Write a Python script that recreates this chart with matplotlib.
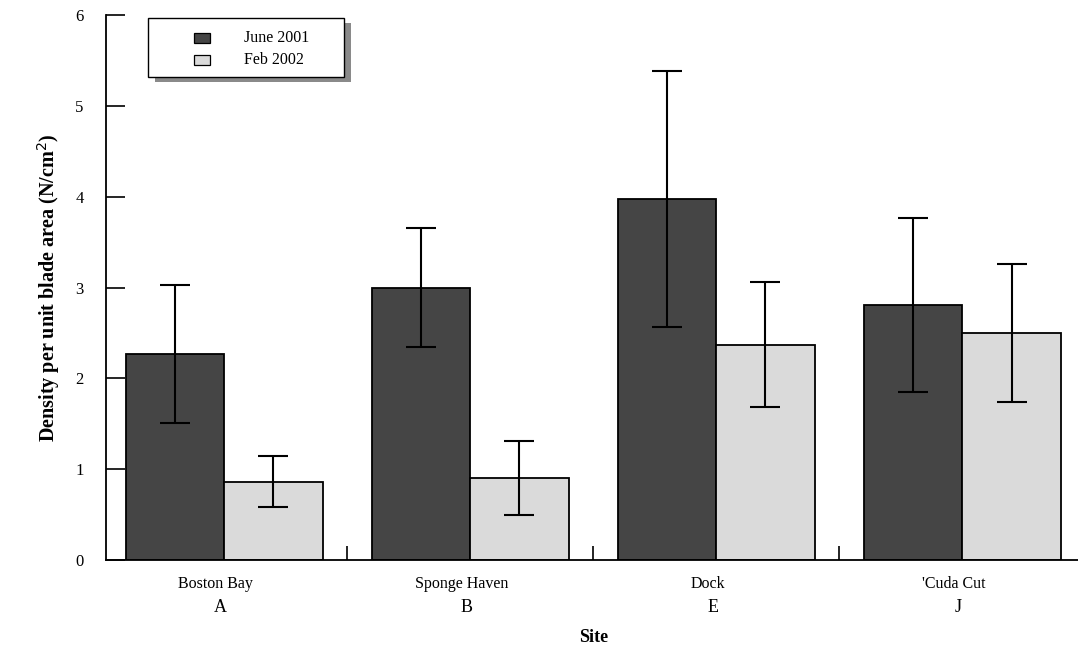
import matplotlib
matplotlib.use("Agg")
import matplotlib.pyplot as plt
from matplotlib.patches import Rectangle
import numpy as np

# Site data
sites = ["Boston Bay", "Sponge Haven", "Dock", "'Cuda Cut"]
site_codes = ["A", "B", "E", "J"]
series_names = ["June 2001", "Feb 2002"]
june_2001 = [2.27, 3.00, 3.97, 2.81]
june_2001_err = [0.76, 0.66, 1.41, 0.96]
feb_2002 = [0.86, 0.90, 2.37, 2.50]
feb_2002_err = [0.28, 0.41, 0.69, 0.76]

plt.rcParams["font.family"] = ["Liberation Serif", "DejaVu Serif"]

fig = plt.figure(figsize=(10.78, 6.5), dpi=100)
ax = fig.add_axes([106 / 1078, 90 / 650, 972 / 1078, 545 / 650])

dark = "#454545"
light = "#dadada"
width = 0.4
centers = np.arange(len(sites)) + 0.5

err_kw = dict(ecolor="black", elinewidth=1.5, capsize=11, capthick=1.5)
ax.bar(centers - width / 2, june_2001, width, color=dark, edgecolor="black",
       linewidth=1.3, zorder=2)
ax.bar(centers + width / 2, feb_2002, width, color=light, edgecolor="black",
       linewidth=1.3, zorder=2)
ax.errorbar(centers - width / 2, june_2001, yerr=june_2001_err, fmt="none",
            zorder=3, **err_kw)
ax.errorbar(centers + width / 2, feb_2002, yerr=feb_2002_err, fmt="none",
            zorder=3, **err_kw)

ax.set_xlim(0.02, 3.97)
ax.set_ylim(0, 6)

for s in ["top", "right"]:
    ax.spines[s].set_visible(False)
ax.spines["left"].set_linewidth(1.3)
ax.spines["bottom"].set_linewidth(1.3)

ax.set_yticks(range(0, 7))
ax.tick_params(axis="y", direction="in", length=14, width=1.2,
               labelsize=12, pad=16)
ax.set_xticks([1, 2, 3])
ax.set_xticklabels([])
ax.tick_params(axis="x", direction="in", length=10, width=1.2)

# Site names, site codes and the axis title below the plot
px = 1 / 90.8
for c, name, code in zip(centers, sites, site_codes):
    ax.text(c - 0.035, -24 * px, name, ha="center", va="center", fontsize=11.5)
    ax.text(c - 0.015, -47 * px, code, ha="center", va="center", fontsize=13)
ax.text(2.0, -77 * px, "Site", ha="center", va="center", fontsize=13,
        fontweight="bold")

ax.set_ylabel("Density per unit blade area (N/cm$^2$)", fontsize=14.5,
              fontweight="bold", labelpad=10)

# Legend box with drop shadow
def fx(p):
    return (p - 106) / 972

def fy(p):
    return (560 - p) / 545

box_l, box_r, box_t, box_b = 148, 344, 18, 77
ax.add_patch(Rectangle((fx(box_l + 7), fy(box_b + 5)), fx(box_r) - fx(box_l),
                       fy(box_t) - fy(box_b), transform=ax.transAxes,
                       facecolor="#8a8a8a", edgecolor="none", zorder=4,
                       clip_on=False))
ax.add_patch(Rectangle((fx(box_l), fy(box_b)), fx(box_r) - fx(box_l),
                       fy(box_t) - fy(box_b), transform=ax.transAxes,
                       facecolor="white", edgecolor="black", linewidth=1.0,
                       zorder=5, clip_on=False))
for (yc, col, label) in [(38, dark, series_names[0]), (60, light, series_names[1])]:
    ax.add_patch(Rectangle((fx(194), fy(yc + 5)), fx(210) - fx(194),
                           fy(yc - 5) - fy(yc + 5), transform=ax.transAxes,
                           facecolor=col, edgecolor="black", linewidth=0.9,
                           zorder=6, clip_on=False))
    ax.text(fx(244), fy(yc), label, transform=ax.transAxes, ha="left",
            va="center", fontsize=11.5, zorder=6)

fig.savefig("out.png", dpi=100)
